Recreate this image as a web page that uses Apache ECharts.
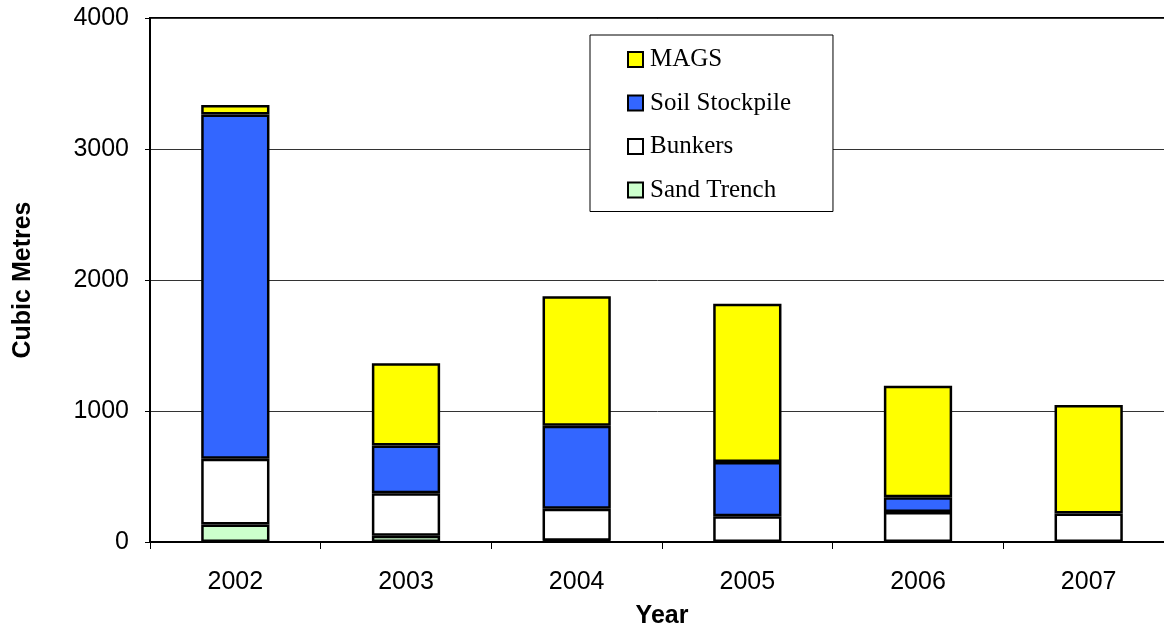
<!DOCTYPE html>
<html>
<head>
<meta charset="utf-8">
<script src="https://cdn.jsdelivr.net/npm/echarts@6/dist/echarts.min.js"></script>
<style>html,body{margin:0;padding:0;background:#fff;}#c{width:1164px;height:626px;}</style>
</head>
<body>
<div id="c"></div>
<script>
var years = ['2002', '2003', '2004', '2005', '2006', '2007'];
var sandTrench = [133, 48, 10, null, null, null];
var bunkers = [503, 325, 244, 196, 229, 217];
var soilStockpile = [2627, 364, 633, 415, 112, null];
var mags = [73, 627, 989, 1208, 851, 828];
var yTicks = [0, 1000, 2000, 3000, 4000];

var chart = echarts.init(document.getElementById('c'));
function s(name, data, color) {
  return {
    name: name, type: 'bar', stack: 'total', data: data, barWidth: '40%',
    itemStyle: { color: color, borderColor: '#000', borderWidth: 2.5 }
  };
}
chart.setOption({
  animation: false,
  backgroundColor: '#fff',
  grid: { left: 150, top: 18, bottom: 84, right: -10, show: true, borderColor: '#000', borderWidth: 2,
    outerBoundsMode: 'none', containLabel: false },
  legend: {
    orient: 'vertical', left: 590, top: 35,
    data: ['MAGS', 'Soil Stockpile', 'Bunkers', 'Sand Trench'],
    icon: 'rect',
    itemWidth: 15, itemHeight: 15, itemGap: 18.5,
    padding: [12, 42, 9, 37],
    borderColor: '#000', borderWidth: 1, backgroundColor: '#fff',
    itemStyle: { borderColor: '#000', borderWidth: 2 },
    textStyle: { fontFamily: 'Liberation Serif', fontSize: 25, color: '#000', padding: [0, 0, 0, 2] }
  },
  xAxis: {
    type: 'category', data: years,
    name: 'Year', nameLocation: 'middle', nameGap: 62,
    nameTextStyle: { fontFamily: 'Liberation Sans', fontSize: 25, fontWeight: 'bold', color: '#000' },
    axisLine: { lineStyle: { color: '#000', width: 2 } },
    axisTick: { show: true, length: 7, lineStyle: { color: '#000' }, alignWithLabel: false },
    axisLabel: { fontFamily: 'Liberation Sans', fontSize: 25, color: '#000', margin: 28 },
    splitLine: { show: false }
  },
  yAxis: {
    type: 'value', min: yTicks[0], max: yTicks[yTicks.length - 1], interval: 1000,
    name: 'Cubic Metres', nameLocation: 'middle', nameGap: 114, nameRotate: 90,
    nameTextStyle: { fontFamily: 'Liberation Sans', fontSize: 25, fontWeight: 'bold', color: '#000' },
    axisLine: { show: true, lineStyle: { color: '#000', width: 2 } },
    axisTick: { show: true, length: 5, lineStyle: { color: '#000' } },
    axisLabel: { fontFamily: 'Liberation Sans', fontSize: 25, color: '#000', margin: 21,
      formatter: function (v) { return String(v); } },
    splitLine: { show: true, lineStyle: { color: '#333', width: 1 } }
  },
  series: [
    s('Sand Trench', sandTrench, '#CCFFCC'),
    s('Bunkers', bunkers, '#FFFFFF'),
    s('Soil Stockpile', soilStockpile, '#3366FF'),
    s('MAGS', mags, '#FFFF00')
  ]
});
</script>
</body>
</html>
